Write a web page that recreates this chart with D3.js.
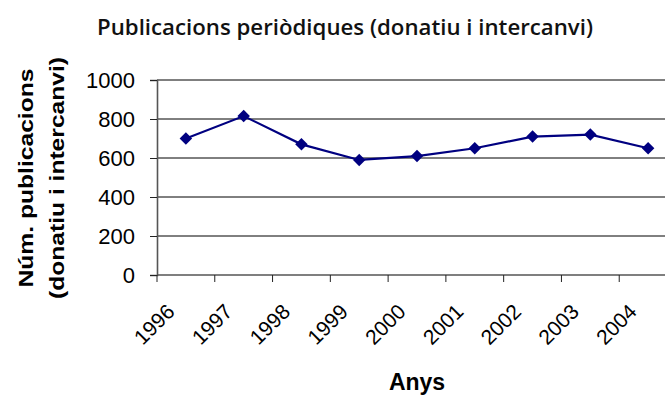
<!DOCTYPE html>
<html>
<head>
<meta charset="utf-8">
<script src="https://cdn.jsdelivr.net/npm/d3@7"></script>
<style>
  html, body { margin: 0; padding: 0; background: #fff; overflow: hidden; }
  svg { display: block; }
</style>
</head>
<body>
<svg id="chart" width="665" height="396"></svg>
<script>
// Periodical publications received by donation or exchange, per year
const years = ["1996", "1997", "1998", "1999", "2000", "2001", "2002", "2003", "2004"];
const publications = [700, 815, 670, 590, 610, 650, 710, 720, 650];
const yTicks = [0, 200, 400, 600, 800, 1000];

const titleText = "Publicacions periòdiques (donatiu i intercanvi)";
const yTitleLines = ["Núm. publicacions", "(donatiu i intercanvi)"];
const xTitleText = "Anys";

const svg = d3.select("#chart");

const plot = { left: 157, right: 677, top: 80, bottom: 275 };

const x = d3.scaleBand().domain(years).range([plot.left, plot.right]).paddingInner(0).paddingOuter(0);
const y = d3.scaleLinear().domain([0, 1000]).range([plot.bottom, plot.top]);

// Horizontal gridlines
svg.append("g")
  .selectAll("line")
  .data(yTicks.filter(d => d > 0))
  .join("line")
  .attr("x1", plot.left)
  .attr("x2", plot.right)
  .attr("y1", d => y(d))
  .attr("y2", d => y(d))
  .attr("stroke", "#000")
  .attr("stroke-width", 1);

// Y axis
const yAxis = svg.append("g")
  .attr("transform", `translate(${plot.left},0)`)
  .call(d3.axisLeft(y).tickValues(yTicks).tickSize(7).tickPadding(15).tickFormat(d3.format("d")));
yAxis.attr("font-family", null).attr("font-size", null);
yAxis.select(".domain").attr("stroke", "#555").attr("stroke-width", 1.6);
yAxis.selectAll(".tick line").attr("stroke", "#222");
yAxis.selectAll(".tick text")
  .style("font-family", "'Liberation Sans', Arial, Helvetica, sans-serif")
  .style("font-size", "22px")
  .attr("fill", "#000")
  .attr("dy", "0.36em");

// X axis: ticks at category boundaries
const xAxisG = svg.append("g");
xAxisG.append("line")
  .attr("x1", plot.left).attr("x2", plot.right)
  .attr("y1", plot.bottom).attr("y2", plot.bottom)
  .attr("stroke", "#555").attr("stroke-width", 1.6);
xAxisG.selectAll("line.tick")
  .data(years)
  .join("line")
  .attr("class", "tick")
  .attr("x1", d => x(d)).attr("x2", d => x(d))
  .attr("y1", plot.bottom).attr("y2", plot.bottom + 7)
  .attr("stroke", "#222");

xAxisG.selectAll("text")
  .data(years)
  .join("text")
  .attr("transform", d => `translate(${x(d) + x.bandwidth() / 2 - 10},313) rotate(-45)`)
  .attr("text-anchor", "end")
  .style("font-family", "'Liberation Sans', Arial, Helvetica, sans-serif")
  .style("font-size", "21px")
  .attr("fill", "#000")
  .text(d => d);

// Series line
const cx = d => x(d) + x.bandwidth() / 2;
svg.append("path")
  .datum(years.map((yr, i) => [yr, publications[i]]))
  .attr("fill", "none")
  .attr("stroke", "#000080")
  .attr("stroke-width", 2.2)
  .attr("d", d3.line().x(d => cx(d[0])).y(d => y(d[1])));

// Diamond markers
svg.append("g")
  .selectAll("path")
  .data(years.map((yr, i) => [yr, publications[i]]))
  .join("path")
  .attr("d", d3.symbol().type(d3.symbolSquare).size(78))
  .attr("transform", d => `translate(${cx(d[0])},${y(d[1])}) rotate(45)`)
  .attr("fill", "#000080");

// Chart title
svg.append("text")
  .attr("x", 345)
  .attr("y", 35)
  .attr("text-anchor", "middle")
  .style("font-family", "'Open Sans', 'Noto Sans', sans-serif")
  .style("font-weight", 600)
  .style("font-size", "21px")
  .attr("textLength", 496)
  .attr("lengthAdjust", "spacingAndGlyphs")
  .attr("fill", "#111")
  .text(titleText);

// Y axis title, two lines rotated
const yTitle = svg.append("g").attr("transform", "translate(0,178) rotate(-90)");
yTitle.selectAll("text")
  .data(yTitleLines)
  .join("text")
  .attr("x", 0)
  .attr("y", (d, i) => 33 + i * 31)
  .attr("text-anchor", "middle")
  .style("font-family", "'Liberation Sans', Arial, Helvetica, sans-serif")
  .style("font-weight", "bold")
  .style("font-size", "21px")
  .attr("textLength", (d, i) => i === 0 ? 219 : 242)
  .attr("lengthAdjust", "spacingAndGlyphs")
  .attr("fill", "#000")
  .text(d => d);

// X axis title
svg.append("text")
  .attr("x", 417)
  .attr("y", 390)
  .attr("text-anchor", "middle")
  .style("font-family", "'Liberation Sans', Arial, Helvetica, sans-serif")
  .style("font-weight", "bold")
  .style("font-size", "23px")
  .attr("fill", "#000")
  .text(xTitleText);
</script>
</body>
</html>
